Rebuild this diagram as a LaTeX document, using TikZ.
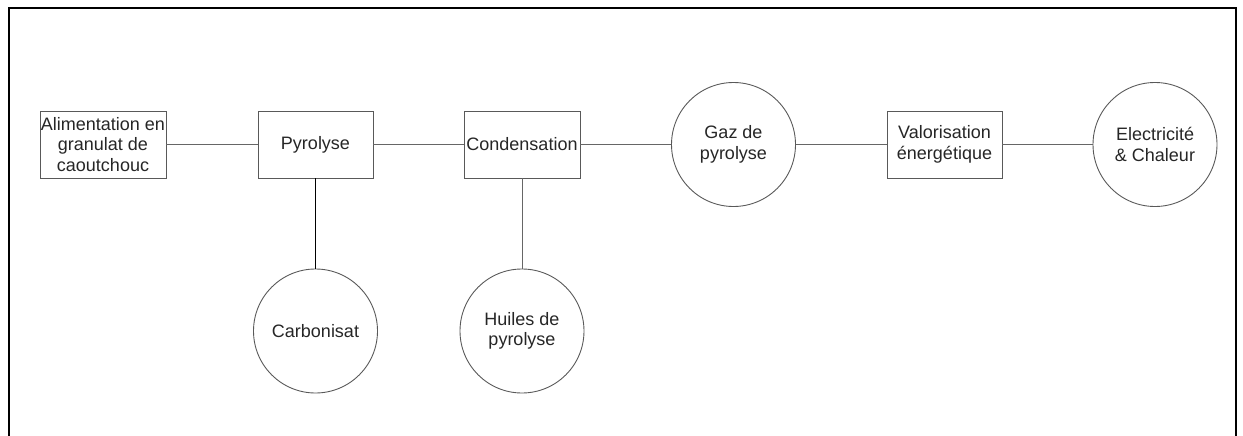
\documentclass[tikz,border=0pt]{standalone}
\usepackage{fontspec}
\setmainfont{Liberation Sans}
\begin{document}
\begin{tikzpicture}[x=1pt,y=-1pt,
  boxn/.style={draw=black!65,line width=0.9pt,rectangle,inner sep=0pt,minimum height=67pt,align=center,font=\fontsize{18}{20.5}\selectfont,text=black!85},
  circn/.style={draw=black!65,line width=0.9pt,circle,inner sep=0pt,minimum size=124pt,align=center,font=\fontsize{18}{20.5}\selectfont,text=black!85},
  link/.style={draw=black!60,line width=0.9pt}]
\useasboundingbox (0,0) rectangle (1243,436);
\begin{scope}
\clip (0,0) rectangle (1243,436);
\draw[line width=2pt] (9,450) -- (9,8) -- (1236,8) -- (1236,450);
\end{scope}
\node[boxn,minimum width=126pt] (A) at (103,144.5) {Alimentation en\\granulat de\\caoutchouc};
\node[boxn,minimum width=115pt] (P) at (315.5,144.5) {Pyrolyse};
\node[boxn,minimum width=116pt] (C) at (522,144.5) {Condensation};
\node[circn] (G) at (733.5,144.5) {Gaz de\\pyrolyse};
\node[boxn,minimum width=115pt] (V) at (944.5,144.5) {Valorisation\\énergétique};
\node[circn] (E) at (1155,144.5) {Electricité\\\& Chaleur};
\node[circn] (K) at (315.5,331) {Carbonisat};
\node[circn] (H) at (522,331) {Huiles de\\pyrolyse};
\draw[link] (A) -- (P);
\draw[link] (P) -- (C);
\draw[link] (C) -- (G);
\draw[link] (G) -- (V);
\draw[link] (V) -- (E);
\draw[line width=0.9pt,black] (P) -- (K);
\draw[link] (C) -- (H);
\end{tikzpicture}
\end{document}
